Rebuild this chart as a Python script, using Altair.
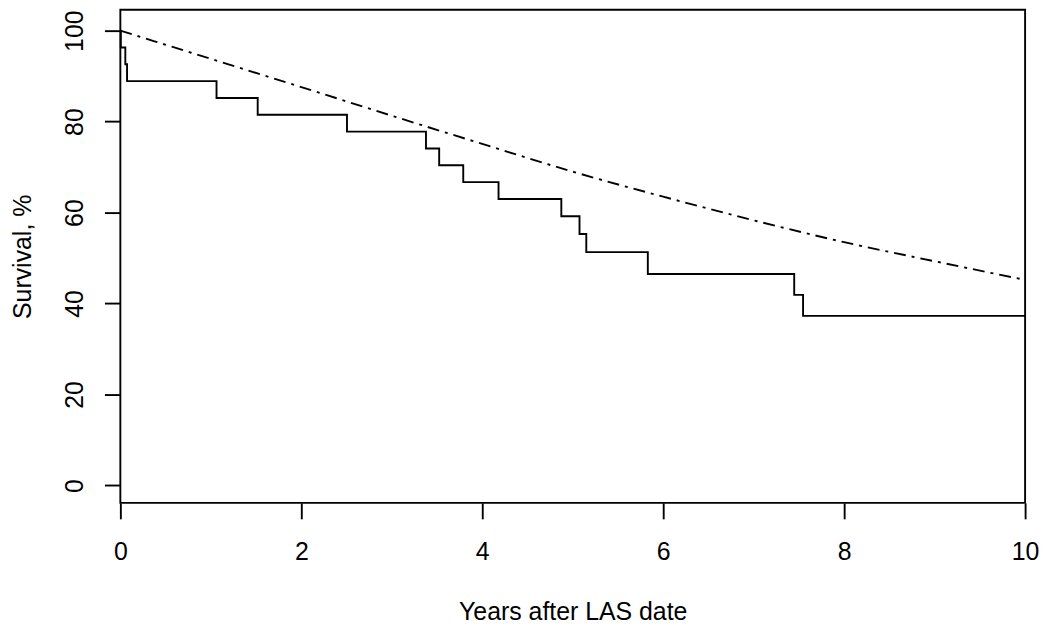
import altair as alt
import pandas as pd

# Kaplan-Meier step curve (years, survival %)
km_time = [0.0, 0.005, 0.055, 0.074, 1.063, 1.518, 2.505, 3.378, 3.524, 3.790,
           4.180, 4.874, 5.075, 5.150, 5.830, 7.448, 7.546, 10.0]
km_surv = [100.0, 96.3, 92.6, 88.9, 85.2, 81.5, 77.8, 74.1, 70.4, 66.7,
           63.0, 59.2, 55.3, 51.3, 46.5, 41.9, 37.3, 37.3]

# Expected survival curve (dot-dash)
exp_time = [0, 1, 2, 3, 4, 5, 6, 7, 8, 9, 10]
exp_surv = [100.0, 93.8, 87.6, 81.3, 75.1, 69.0, 63.5, 58.3, 53.5, 49.3, 45.2]

x_ticks = [0, 2, 4, 6, 8, 10]
y_ticks = [0, 20, 40, 60, 80, 100]

km_df = pd.DataFrame({"t": km_time, "s": km_surv})
exp_df = pd.DataFrame({"t": exp_time, "s": exp_surv})

FONT = "Liberation Sans"
LW = 1.9
W = 910

x_scale = alt.Scale(domain=[0, 10], nice=False, zero=False)
y_scale = alt.Scale(domain=[-3.83, 104.59], nice=False, zero=False)

x_axis = alt.Axis(
    values=x_ticks, format="d", grid=False, domain=False, labelFlush=False,
    tickSize=16, tickWidth=LW, tickColor="black",
    labelFontSize=25, labelFont=FONT, labelColor="black",
    labelPadding=41, labelBaseline="alphabetic", labelAlign="center",
    title="Years after LAS date", titleFont=FONT, titleFontSize=25,
    titleFontWeight="normal", titleColor="black",
    titleX=W / 2, titleY=117, titleAlign="center", titleBaseline="alphabetic",
)
y_axis = alt.Axis(
    values=y_ticks, format="d", grid=False, domain=False, labelFlush=False,
    tickSize=16, tickWidth=LW, tickColor="black",
    labelFontSize=25, labelFont=FONT, labelColor="black",
    labelAngle=270, labelAlign="center", labelBaseline="alphabetic",
    labelPadding=22,
    title="Survival, %", titleFont=FONT, titleFontSize=25,
    titleFontWeight="normal", titleColor="black",
    titleAngle=270, titleX=-90, titleY=248, titleAlign="center",
    titleBaseline="alphabetic",
)

km = alt.Chart(km_df).mark_line(
    interpolate="step-after", color="black", strokeWidth=LW
).encode(
    x=alt.X("t:Q", scale=x_scale, axis=x_axis),
    y=alt.Y("s:Q", scale=y_scale, axis=y_axis),
)

expected = alt.Chart(exp_df).mark_line(
    interpolate="monotone", color="black", strokeWidth=LW,
    strokeDash=[12, 6, 3, 6],
).encode(
    x=alt.X("t:Q", scale=x_scale),
    y=alt.Y("s:Q", scale=y_scale),
)

chart = alt.layer(km, expected).properties(
    width=W, height=496,
    autosize=alt.AutoSizeParams(type="none"),
    padding={"left": 113, "top": 0, "right": 17, "bottom": 122},
    background="white",
).configure_view(
    stroke="black", strokeWidth=LW
)

chart.save("out.html", embed_options={"renderer": "svg", "actions": False})
